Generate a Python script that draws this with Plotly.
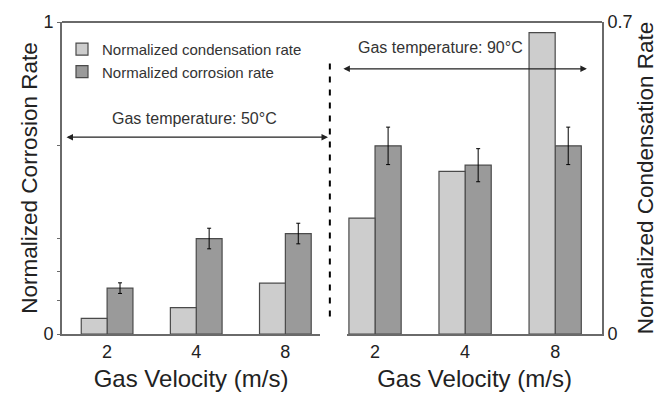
import plotly.graph_objects as go

# Gas velocity categories (m/s)
velocities = ["2", "4", "8"]
positions = [0, 1, 2]

# Gas temperature 50°C
cond_50 = [0.035, 0.059, 0.114]      # normalized condensation rate (right axis)
corr_50 = [0.147, 0.306, 0.322]      # normalized corrosion rate (left axis)
corr_50_err = [0.017, 0.033, 0.033]

# Gas temperature 90°C
cond_90 = [0.260, 0.365, 0.676]
corr_90 = [0.603, 0.541, 0.603]
corr_90_err = [0.060, 0.053, 0.060]

# left-axis tick marks (only ends labelled)
corr_tickvals = [0, 0.106, 0.2, 0.306, 0.603, 1]
corr_ticktext = ["0", "", "", "", "", "1"]

LIGHT = "#cdcdcd"
DARK = "#9a9a9a"
EDGE = "#4a4a4a"
AXIS = "#6a6a6a"
FONT = "Liberation Sans, Arial, sans-serif"
BW = 0.29

fig = go.Figure()

def add_pair(xax, cond, corr, err, show):
    fig.add_trace(go.Bar(
        x=positions, y=cond, xaxis=xax, yaxis="y2",
        width=BW, offset=-BW, marker=dict(color=LIGHT, line=dict(color=EDGE, width=1.2)),
        name="Normalized condensation rate", showlegend=show, legendrank=1,
    ))
    fig.add_trace(go.Bar(
        x=positions, y=corr, xaxis=xax, yaxis="y",
        width=BW, offset=0, marker=dict(color=DARK, line=dict(color=EDGE, width=1.2)),
        error_y=dict(type="data", array=err, color="black", thickness=1, width=2),
        name="Normalized corrosion rate", showlegend=show, legendrank=2,
    ))

add_pair("x", cond_50, corr_50, corr_50_err, True)
add_pair("x2", cond_90, corr_90, corr_90_err, False)

xcommon = dict(
    tickvals=positions, ticktext=velocities, ticks="", showgrid=False, zeroline=False,
    showline=True, linecolor=AXIS, linewidth=2,
    tickfont=dict(size=18, color="#222"),
    title=dict(text="Gas Velocity (m/s)", font=dict(size=24, color="#222"), standoff=10),
)

fig.update_layout(
    width=670, height=400,
    margin=dict(l=62, r=68, t=15, b=65),
    paper_bgcolor="white", plot_bgcolor="white",
    font=dict(family=FONT, color="#222"),
    barmode="overlay",
    xaxis=dict(domain=[0, 0.478], range=[-0.506, 2.39], anchor="y", **xcommon),
    xaxis2=dict(domain=[0.528, 1], range=[-0.31, 2.52], anchor="y", **xcommon),
    yaxis=dict(
        range=[0, 1], anchor="x", side="left",
        tickvals=corr_tickvals, ticktext=corr_ticktext,
        ticks="outside", ticklen=3, tickcolor=AXIS,
        showgrid=False, zeroline=False, showline=True, linecolor=AXIS, linewidth=2,
        tickfont=dict(size=18, color="#222"),
        title=dict(text="Normalized Corrosion Rate", font=dict(size=22.5, color="#222"), standoff=0),
    ),
    yaxis2=dict(
        range=[0, 0.7], overlaying="y", anchor="x2", side="right",
        tickvals=[0, 0.7], ticktext=["0", "0.7"], ticks="",
        showgrid=False, zeroline=False, showline=True, linecolor=AXIS, linewidth=2,
        tickfont=dict(size=18, color="#222"),
        title=dict(text="Normalized Condensation Rate", font=dict(size=22.5, color="#222"), standoff=5),
    ),
    legend=dict(
        x=0.0, y=0.965, xanchor="left", yanchor="top",
        bgcolor="rgba(0,0,0,0)", font=dict(size=15, color="#333"),
        itemwidth=30, tracegroupgap=0, traceorder="normal",
    ),
    showlegend=True,
)

# frame top edge and the dashed divider between temperature regimes
fig.add_shape(type="line", xref="paper", yref="paper", x0=0, x1=1, y0=1, y1=1,
              line=dict(color=AXIS, width=2))
fig.add_shape(type="line", xref="paper", yref="paper", x0=0.496, x1=0.496, y0=0.056, y1=0.881,
              line=dict(color="black", width=2, dash="6px,7px"))

# temperature range arrows
fig.add_annotation(xref="paper", yref="paper", x=0.4926, y=0.631, ax=-263, ay=0,
                   showarrow=True, arrowside="end+start", arrowhead=2, arrowsize=1,
                   arrowwidth=1.3, arrowcolor="#222", text="")
fig.add_annotation(xref="paper", yref="paper", x=0.972, y=0.85, ax=-245, ay=0,
                   showarrow=True, arrowside="end+start", arrowhead=2, arrowsize=1,
                   arrowwidth=1.3, arrowcolor="#222", text="")
fig.add_annotation(xref="paper", yref="paper", x=0.246, y=0.69, xanchor="center", yanchor="middle",
                   text="Gas temperature: 50°C", showarrow=False, font=dict(size=16, color="#333"))
fig.add_annotation(xref="paper", yref="paper", x=0.70, y=0.919, xanchor="center", yanchor="middle",
                   text="Gas temperature: 90°C", showarrow=False, font=dict(size=16, color="#333"))

fig.write_html("out.html")
